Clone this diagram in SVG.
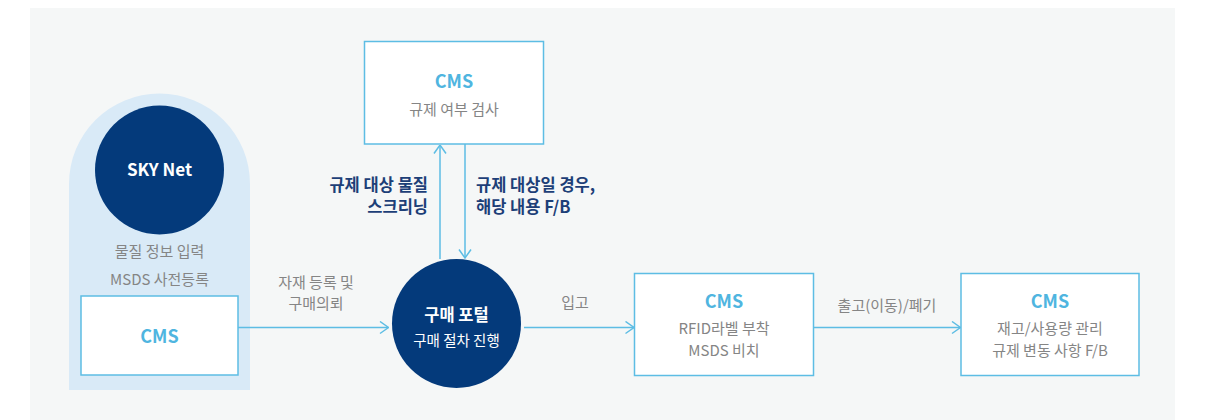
<svg xmlns="http://www.w3.org/2000/svg" width="1216" height="420" viewBox="0 0 1216 420">
<defs>
<style>
.box{fill:#ffffff;stroke:#5dbde4;stroke-width:1.5}
.cms{font-family:"Noto Sans CJK KR","Noto Sans",sans-serif;font-weight:700;font-size:18px;fill:#4fb5e0;text-anchor:middle}
.g{font-family:"Noto Sans CJK KR","Noto Sans",sans-serif;font-size:15px;fill:#858585;text-anchor:middle}
.w{font-family:"Noto Sans CJK KR","Noto Sans",sans-serif;fill:#ffffff;text-anchor:middle}
.nv{font-family:"Noto Sans CJK KR","Noto Sans",sans-serif;font-weight:700;font-size:16.5px;fill:#1d3f78}
.ln{stroke:#5dbde4;stroke-width:1.5;fill:none}
</style>
<marker id="ah" viewBox="0 0 10 14" refX="9.5" refY="7" markerWidth="10" markerHeight="14" markerUnits="userSpaceOnUse" orient="auto">
<path d="M1,1 L9.5,7 L1,13" fill="none" stroke="#5dbde4" stroke-width="1.5"/>
</marker>
</defs>
<rect x="30" y="8" width="1145" height="412" fill="#f5f7f7"/>
<g id="skynet-panel">
<path d="M69,390 L69,184 A90.5,90.5 0 0 1 250,184 L250,390 Z" fill="#d9eaf7"/>
<circle cx="159.5" cy="170" r="64.5" fill="#043a7b"/>
<text class="w" x="159.5" y="176" font-size="17" font-weight="700">SKY Net</text>
<text class="g" x="159.5" y="257">물질 정보 입력</text>
<text class="g" x="159.5" y="285">MSDS 사전등록</text>
</g>
<g id="cms-left">
<rect class="box" x="81" y="296" width="157" height="79"/>
<text class="cms" x="159.5" y="343">CMS</text>
</g>
<g id="cms-top">
<rect class="box" x="364.5" y="41.5" width="179" height="102.5"/>
<text class="cms" x="454" y="88">CMS</text>
<text class="g" x="454" y="115">규제 여부 검사</text>
</g>
<g id="portal">
<circle cx="456.5" cy="323.5" r="64.5" fill="#043a7b"/>
<text class="w" x="456.5" y="321" font-size="16.5" font-weight="700">구매 포털</text>
<text class="w" x="456.5" y="346" font-size="14.5">구매 절차 진행</text>
</g>
<g id="cms-rfid">
<rect class="box" x="634.5" y="273.5" width="179" height="102"/>
<text class="cms" x="724" y="308">CMS</text>
<text class="g" x="724" y="334">RFID라벨 부착</text>
<text class="g" x="724" y="356">MSDS 비치</text>
</g>
<g id="cms-stock">
<rect class="box" x="961" y="273.5" width="178" height="102"/>
<text class="cms" x="1050" y="308">CMS</text>
<text class="g" x="1050" y="334">재고/사용량 관리</text>
<text class="g" x="1050" y="356">규제 변동 사항 F/B</text>
</g>
<g id="connectors">
<line class="ln" x1="238" y1="327.5" x2="388.5" y2="327.5" marker-end="url(#ah)"/>
<line class="ln" x1="440" y1="259" x2="440" y2="145" marker-end="url(#ah)"/>
<line class="ln" x1="465" y1="144" x2="465" y2="258" marker-end="url(#ah)"/>
<line class="ln" x1="524" y1="327.5" x2="634" y2="327.5" marker-end="url(#ah)"/>
<line class="ln" x1="813.5" y1="327.5" x2="960.5" y2="327.5" marker-end="url(#ah)"/>
</g>
<g id="labels">
<text class="g" x="316" y="288" font-size="16.5">자재 등록 및</text>
<text class="g" x="316" y="309" font-size="16.5">구매의뢰</text>
<text class="g" x="575" y="308" font-size="16">입고</text>
<text class="g" x="887" y="311" font-size="15.5">출고(이동)/폐기</text>
<text class="nv" x="428" y="191" text-anchor="end">규제 대상 물질</text>
<text class="nv" x="428" y="213" text-anchor="end">스크리닝</text>
<text class="nv" x="476" y="191">규제 대상일 경우,</text>
<text class="nv" x="476" y="213">해당 내용 F/B</text>
</g>
</svg>
